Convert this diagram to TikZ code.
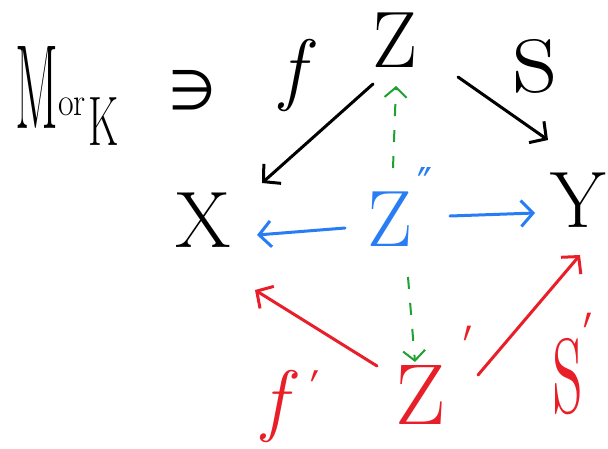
\documentclass[tikz,border=0pt]{standalone}
\usepackage{fontspec}
\newfontfamily\dvfont{DejaVu Sans}
\usetikzlibrary{arrows.meta,calc}
\definecolor{inkblue}{RGB}{40,125,245}
\definecolor{inkred}{RGB}{232,30,40}
\definecolor{inkgreen}{RGB}{30,160,50}
% #1 vertical scale, #2 raise, #3 glyph
\newcommand{\prm}[3]{\smash{\raisebox{#2}{\scalebox{1}[#1]{\fontsize{40}{40}\selectfont\upshape\dvfont #3}}}}
\begin{document}
\begin{tikzpicture}[x=1pt,y=-1pt,
  lbl/.style={inner sep=0pt, font=\fontsize{80}{96}\selectfont},
  arr/.style={line width=3pt, line cap=round, -{Straight Barb[length=12pt,width=26pt]}},
  garr/.style={line width=2pt, inkgreen, dash pattern=on 12pt off 14pt, -{Straight Barb[length=10pt,width=22pt]}}]
\useasboundingbox (0,0) rectangle (608,448);
% labels
\node[lbl, anchor=base west] (mor) at (15,128) {\scalebox{0.42}[1]{\fontsize{120}{120}\selectfont M}\raisebox{13pt}{\scalebox{0.85}[1]{\fontsize{40}{40}\selectfont or}}\hspace{3pt}\raisebox{-17pt}{\scalebox{0.6}[1]{\fontsize{70}{70}\selectfont K}}};
\node[lbl, font=\fontsize{55}{60}\selectfont\dvfont] (ni) at (192,90) {∋};
\node[lbl, font=\fontsize{80}{96}\selectfont\itshape] (f) at (292,75) {f};
\node[lbl] (Z) at (395,40) {Z};
\node[lbl, anchor=base] (s) at (535,92) {\scalebox{1.5}{s}};
\node[lbl] (X) at (203,220) {X};
\node[lbl] (Y) at (578,200) {Y};
\node[lbl, text=inkblue] (Zpp) at (400,219) {Z\hspace{5pt}\prm{1.2}{44pt}{″}};
\node[lbl, text=inkred] (Zp) at (434,395) {\scalebox{1.12}[1.08]{Z}\hspace{18pt}\prm{2}{40pt}{′}};
\node[lbl, text=inkred, font=\fontsize{80}{96}\selectfont\itshape, anchor=base west] (fp) at (262,426) {f\hspace{24pt}\prm{1.5}{12pt}{′}};
\node[lbl, text=inkred, anchor=base west] (sp) at (553,413) {\scalebox{0.8}[1.7]{\fontsize{100}{100}\selectfont s}\hspace{2pt}\prm{2}{42pt}{′}};
% black arrows
\draw[arr] ($(Z)+(-22,44)$) -- ($(X)+(59,-37)$);
\draw[arr] ($(Z)+(63,37)$) -- ($(Y)+(-30,-60)$);
% blue arrows
\draw[arr, inkblue] ($(Zpp)+(-55,9)$) -- ($(X)+(54,15)$);
\draw[arr, inkblue] ($(Zpp)+(50,-3)$) -- ($(Y)+(-43,13)$);
% green dashed
\draw[garr] ($(Zpp)+(-7,-51)$) -- ($(Z)+(1,46)$);
\draw[garr] ($(Zpp)+(8,58)$) -- ($(Zp)+(-19,-33)$);
% red arrows
\draw[arr, inkred] ($(Zp)+(-57,-29)$) -- ($(X)+(52,70)$);
\draw[arr, inkred] ($(Zp)+(44,-20)$) -- ($(Y)+(2,55)$);
\end{tikzpicture}
\end{document}
